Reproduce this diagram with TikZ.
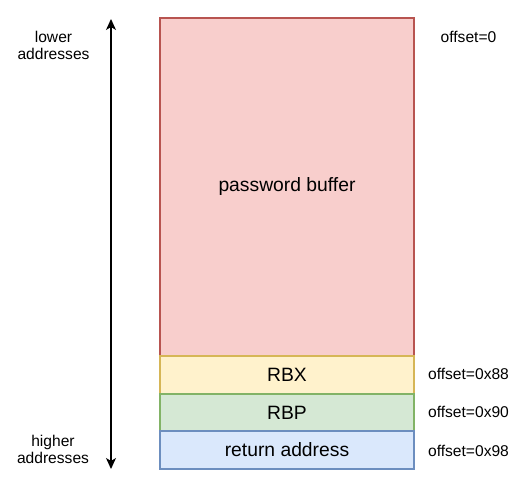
\documentclass[tikz,border=0pt]{standalone}
\usepackage{fontspec}
\setmainfont{Liberation Sans}
\usetikzlibrary{arrows.meta}
\definecolor{redfill}{HTML}{F8CECC}\definecolor{redline}{HTML}{B85450}
\definecolor{yelfill}{HTML}{FFF2CC}\definecolor{yelline}{HTML}{D6B656}
\definecolor{grnfill}{HTML}{D5E8D4}\definecolor{grnline}{HTML}{82B366}
\definecolor{blufill}{HTML}{DAE8FC}\definecolor{bluline}{HTML}{6C8EBF}
\tikzset{
  cell/.style={draw, line width=1.3pt, inner sep=0pt, font=\fontsize{19.3}{22}\selectfont},
  small/.style={font=\fontsize{15.6}{18}\selectfont, align=center, inner sep=0pt},
}
\begin{document}
\begin{tikzpicture}[x=1pt,y=-1pt]
\useasboundingbox (0,0) rectangle (528,487);
\node[cell, fill=redfill, draw=redline, minimum width=254pt, minimum height=338pt] (buf) at (287,187) {password buffer};
\node[cell, fill=yelfill, draw=yelline, minimum width=254pt, minimum height=38pt] (rbx) at (287,375) {RBX};
\node[cell, fill=grnfill, draw=grnline, minimum width=254pt, minimum height=37pt] (rbp) at (287,412.5) {RBP};
\node[cell, fill=blufill, draw=bluline, minimum width=254pt, minimum height=38pt] (ret) at (287,450) {return address};
\coordinate (top) at (111,19);
\coordinate (bot) at (111,469);
\draw[line width=1.3pt, {Stealth[length=11pt,width=10pt,inset=3pt]}-{Stealth[length=11pt,width=10pt,inset=3pt]}] (top) -- (bot);
\node[small] (lo) at (53.5,45.5) {lower\\[-1pt]addresses};
\node[small] (hi) at (53,449) {higher\\[-1pt]addresses};
\node[small] (o0) at (468.5,37) {offset=0};
\node[small] (o1) at (468.5,374) {offset=0x88};
\node[small] (o2) at (468.5,412) {offset=0x90};
\node[small] (o3) at (468.5,451) {offset=0x98};
\end{tikzpicture}
\end{document}
